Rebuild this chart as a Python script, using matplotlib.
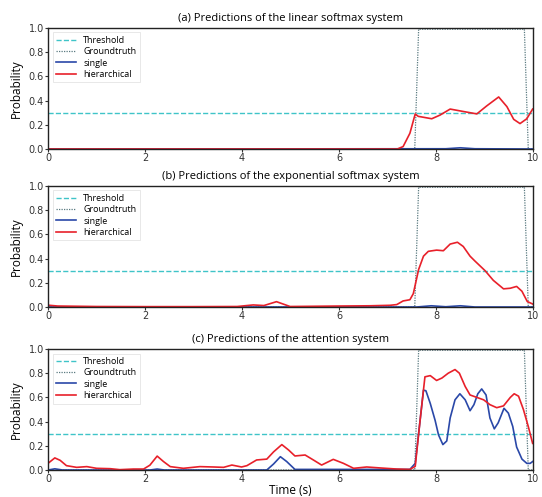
import matplotlib
matplotlib.use("Agg")
import matplotlib.pyplot as plt

# ---- data ----
threshold = 0.3
gt_t = [0.0, 7.56, 7.64, 9.82, 9.90, 9.99]
gt_p = [0.0, 0.0, 0.99, 0.99, 0.0, 0.0]

# (a) linear softmax
a_single_t = [0.0, 8.2, 8.5, 8.8, 9.99]
a_single_p = [0.0, 0.002, 0.01, 0.002, 0.0]
a_hier_t = [0.0, 7.2, 7.32, 7.46, 7.57, 7.63, 7.91, 8.08, 8.29, 8.56, 8.84,
            9.04, 9.29, 9.46, 9.60, 9.73, 9.87, 9.99]
a_hier_p = [0.0, 0.0, 0.02, 0.13, 0.29, 0.27, 0.25, 0.28, 0.33, 0.31, 0.29,
            0.355, 0.43, 0.35, 0.245, 0.21, 0.25, 0.33]

# (b) exponential softmax
b_single_t = [0.0, 7.6, 7.9, 8.2, 8.5, 8.8, 9.99]
b_single_p = [0.0, 0.0, 0.01, 0.002, 0.01, 0.0, 0.0]
b_hier_t = [0.0, 0.2, 1.0, 2.0, 3.0, 3.9, 4.23, 4.45, 4.71, 4.99, 5.5, 6.0,
            6.64, 7.05, 7.19, 7.32, 7.46, 7.53, 7.64, 7.74, 7.84, 8.01, 8.15,
            8.29, 8.44, 8.56, 8.70, 8.80, 9.01, 9.18, 9.39, 9.53, 9.66, 9.77,
            9.88, 9.99]
b_hier_p = [0.015, 0.008, 0.004, 0.003, 0.003, 0.004, 0.017, 0.012, 0.044, 0.004,
            0.006, 0.008, 0.01, 0.014, 0.02, 0.05, 0.06, 0.11, 0.31, 0.42, 0.46,
            0.47, 0.465, 0.52, 0.535, 0.50, 0.42, 0.38, 0.30, 0.22, 0.15, 0.155,
            0.17, 0.13, 0.045, 0.025]

# (c) attention
c_single_t = [0.0, 0.14, 0.3, 2.1, 2.25, 2.4, 4.51, 4.65, 4.79, 4.92, 5.09,
              7.46, 7.57, 7.67, 7.74, 7.79, 7.88, 7.98, 8.05, 8.14, 8.22, 8.29,
              8.39, 8.49, 8.60, 8.70, 8.78, 8.86, 8.94, 9.03, 9.11, 9.20, 9.28,
              9.40, 9.49, 9.58, 9.66, 9.77, 9.87, 9.94, 9.99]
c_single_p = [0.0, 0.01, 0.0, 0.0, 0.008, 0.0, 0.0, 0.05, 0.11, 0.07, 0.005,
              0.005, 0.055, 0.41, 0.66, 0.655, 0.55, 0.41, 0.29, 0.21, 0.24, 0.43,
              0.58, 0.63, 0.58, 0.49, 0.54, 0.63, 0.67, 0.62, 0.43, 0.34, 0.39,
              0.51, 0.47, 0.36, 0.19, 0.09, 0.055, 0.055, 0.07]
c_hier_t = [0.0, 0.14, 0.25, 0.38, 0.59, 0.80, 1.0, 1.28, 1.48, 1.76, 1.97, 2.1,
            2.25, 2.38, 2.52, 2.79, 3.13, 3.41, 3.62, 3.79, 3.99, 4.10, 4.30,
            4.51, 4.65, 4.82, 4.96, 5.09, 5.30, 5.47, 5.64, 5.88, 6.09, 6.30,
            6.57, 6.85, 7.19, 7.46, 7.57, 7.67, 7.77, 7.88, 8.01, 8.12, 8.25,
            8.39, 8.48, 8.60, 8.70, 8.84, 8.98, 9.11, 9.25, 9.39, 9.53, 9.61,
            9.70, 9.80, 9.90, 9.99]
c_hier_p = [0.055, 0.10, 0.08, 0.036, 0.022, 0.028, 0.014, 0.011, 0.003, 0.008,
            0.008, 0.04, 0.115, 0.07, 0.028, 0.014, 0.028, 0.025, 0.022, 0.041,
            0.025, 0.036, 0.083, 0.09, 0.15, 0.21, 0.165, 0.116, 0.124, 0.083,
            0.041, 0.088, 0.055, 0.014, 0.025, 0.017, 0.008, 0.005, 0.03, 0.41,
            0.77, 0.78, 0.74, 0.76, 0.80, 0.83, 0.80, 0.69, 0.62, 0.60, 0.58,
            0.54, 0.515, 0.53, 0.60, 0.63, 0.61, 0.50, 0.36, 0.22]

panels = [
    ("(a) Predictions of the linear softmax system", a_single_t, a_single_p, a_hier_t, a_hier_p),
    ("(b) Predictions of the exponential softmax system", b_single_t, b_single_p, b_hier_t, b_hier_p),
    ("(c) Predictions of the attention system", c_single_t, c_single_p, c_hier_t, c_hier_p),
]

label_font = "Open Sans"
fig = plt.figure(figsize=(5.42, 4.97), dpi=100, facecolor="white")
bottoms = [0.7002, 0.3823, 0.0543]

for i, (title, st, sp, ht, hp) in enumerate(panels):
    ax = fig.add_axes([0.0886, bottoms[i], 0.895, 0.2435])
    ax.axhline(threshold, color="#3fc4c8", linestyle="--", linewidth=1.0, label="Threshold")
    ax.plot(gt_t, gt_p, color="#5a7a80", linestyle=(0, (1, 1)), linewidth=0.9, label="Groundtruth")
    ax.plot(st, sp, color="#2a48a8", linewidth=1.2, label="single")
    ax.plot(ht, hp, color="#e8202a", linewidth=1.2, label="hierarchical")
    ax.set_xlim(0, 10)
    ax.set_ylim(0, 1)
    ax.set_xticks([0, 2, 4, 6, 8, 10])
    ax.set_yticks([0.0, 0.2, 0.4, 0.6, 0.8, 1.0])
    ax.tick_params(labelsize=7, length=2, width=0.8, pad=1, colors="#333333")
    for s in ax.spines.values():
        s.set_color("#222222")
        s.set_linewidth(1.0)
    ax.set_title(title, fontsize=8, family=label_font, pad=5)
    ax.set_ylabel("Probability", fontsize=8.5, family=label_font, labelpad=4)
    leg = ax.legend(loc="upper left", frameon=True, fancybox=False,
                    borderpad=0.4, handlelength=2.2, labelspacing=0.25,
                    prop={"family": label_font, "size": 6.5})
    leg.get_frame().set_edgecolor("#dddddd")
    leg.get_frame().set_linewidth(0.6)
    if i == 2:
        ax.set_xlabel("Time (s)", fontsize=8.5, family=label_font, labelpad=0)

fig.savefig("out.png", dpi=100, facecolor="white")
